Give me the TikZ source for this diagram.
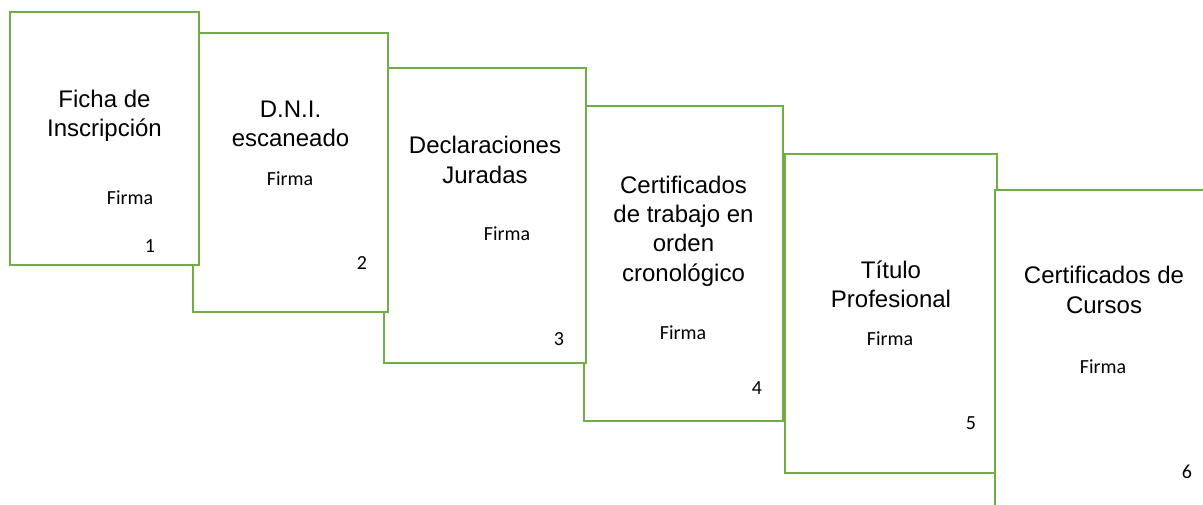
\documentclass[tikz,border=0pt]{standalone}
\usepackage{fontspec}
\setmainfont{Liberation Sans}
\newfontfamily\calibri{Carlito}
\usepackage{tikz}
\usetikzlibrary{calc}

\definecolor{verde}{HTML}{70AD47}

\tikzset{
	hoja/.style={draw=verde, line width=1.8pt, fill=white, inner sep=0pt, outer sep=0pt},
	titulo/.style={align=center, font=\fontsize{18}{22}\selectfont},
	firma/.style={anchor=base, font=\calibri\fontsize{15}{18}\selectfont},
}

\begin{document}
\begin{tikzpicture}[x=0.75pt,y=-0.75pt]
	\useasboundingbox (0,0) rectangle (1203,504);
	
	%sheets (later ones lie under earlier ones, except the last)
	\foreach \i/\xa/\ya/\xb/\yb in {5/785/154/997/473, 6/995/190/1215/520, 4/584/106/783/421, 3/384/68/586/363, 2/193/33/388/312, 1/10/12/199/265} {
		\node[hoja, minimum width={(\xb-\xa)*0.75pt}, minimum height={(\yb-\ya)*0.75pt}] (hoja\i) at ({(\xa+\xb)/2},{(\ya+\yb)/2}) {};
	}
	
	%titles
	\foreach \i/\x/\y/\texto in {1/104.5/115.5/{Ficha de\\Inscripción}, 2/290.5/124/{D.N.I.\\escaneado}, 3/485/160/{Declaraciones\\Juradas}, 4/683.5/231/{Certificados\\de trabajo en\\orden\\cronológico}, 5/891/284/{Título\\Profesional}, 6/1104/290/{Certificados de\\Cursos}} {
		\node[titulo] (titulo\i) at (\x,\y) {\texto};
	}
	
	%signatures
	\foreach \i/\x/\y in {1/130/204, 2/290/185, 3/507/240, 4/683/339, 5/890/345, 6/1103/373} {
		\node[firma] (firma\i) at (\x,\y) {Firma};
	}
	
	%numbers
	\foreach \i/\x/\y in {1/150/252, 2/362/269, 3/559/345, 4/757/394, 5/971/429, 6/1187/478} {
		\node[firma] (num\i) at (\x,\y) {\i};
	}
\end{tikzpicture}
\end{document}
